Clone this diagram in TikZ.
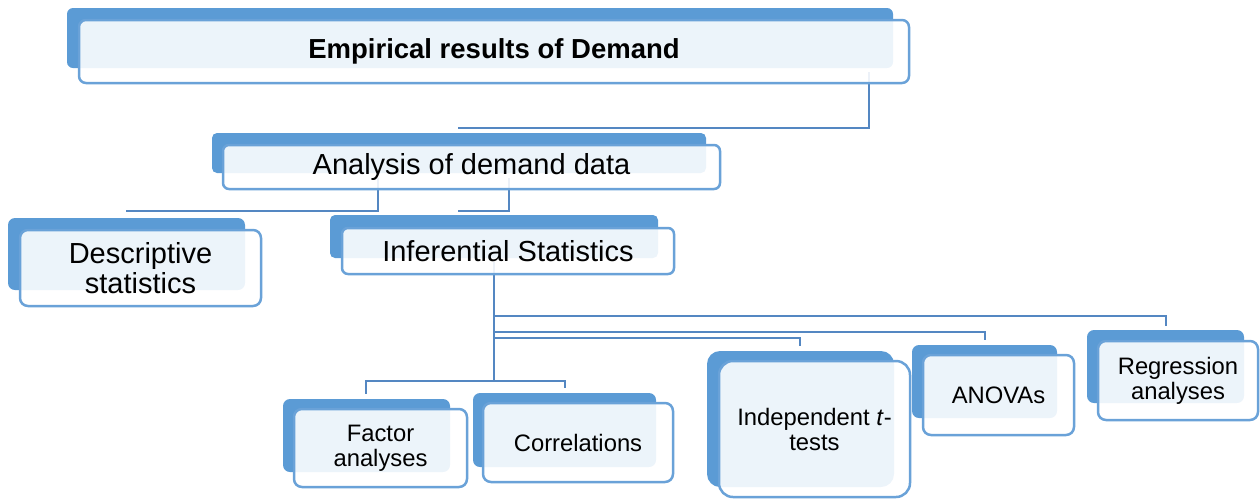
\documentclass[tikz,border=0pt]{standalone}
\usepackage{fontspec}
\setmainfont{Liberation Sans}
\definecolor{tierblue}{HTML}{5B9BD5}
\definecolor{tierline}{HTML}{6AA2D8}
\definecolor{linkblue}{HTML}{5487C2}
\begin{document}
\begin{tikzpicture}[x=1pt,y=-1pt,
  backbox/.style={fill=tierblue},
  frontbox/.style={draw=tierline, line width=2.5pt, fill=white, fill opacity=0.89,
    text opacity=1, inner sep=0pt, outer sep=0pt, align=center, text=black},
  bigtext/.style={font=\fontsize{29}{30}\selectfont},
  smalltext/.style={font=\fontsize{23.8}{25}\selectfont},
  link/.style={draw=linkblue, line width=2.4pt}]
\useasboundingbox (0,0) rectangle (1260,499);

% junction points of the connectors
\coordinate (top-out) at (869,72);
\coordinate (ana-in)  at (458,128);
\coordinate (ana-out1) at (378,178);
\coordinate (desc-in) at (126,211);
\coordinate (ana-out2) at (509,178);
\coordinate (inf-in)  at (458,211);
\coordinate (inf-out) at (494,262);
\coordinate (reg-in)  at (1166,326);
\coordinate (anova-in) at (985,340);
\coordinate (ind-in)  at (800,346);
\coordinate (fac-in)  at (366,394);
\coordinate (cor-in)  at (565,388);

% connectors, drawn underneath the boxes
\draw[link] (top-out) |- (ana-in);
\draw[link] (ana-out1) |- (desc-in);
\draw[link] (ana-out2) |- (inf-in);
\draw[link] (inf-out) -- (494,381);
\draw[link] (inf-out |- 0,316) -| (reg-in);
\draw[link] (inf-out |- 0,332) -| (anova-in);
\draw[link] (inf-out |- 0,338) -| (ind-in);
\draw[link] (inf-out |- 0,381) -| (fac-in);
\draw[link] (inf-out |- 0,381) -| (cor-in);

% Empirical results of Demand
\fill[backbox, rounded corners=6] (67,8) rectangle (893,68);
\node[frontbox, rounded corners=7, minimum width=830, minimum height=63,
  font=\fontsize{27.5}{30}\selectfont\bfseries] (top) at (494,51.5) {Empirical results of Demand};

% Analysis of demand data
\fill[backbox, rounded corners=5] (212,133) rectangle (706,173);
\node[frontbox, bigtext, rounded corners=6, minimum width=497, minimum height=44] (ana) at (471.5,167) {Analysis of demand data};

% Descriptive statistics
\fill[backbox, rounded corners=7] (8,218) rectangle (245,290);
\node[frontbox, bigtext, rounded corners=8, minimum width=241, minimum height=76] (desc) at (140.5,268) {Descriptive\\statistics};

% Inferential Statistics
\fill[backbox, rounded corners=5] (330,215) rectangle (658,258);
\node[frontbox, bigtext, rounded corners=6, minimum width=332, minimum height=46] (inf) at (508,251) {Inferential Statistics};

% Factor analyses
\fill[backbox, rounded corners=7] (283,399) rectangle (450,472);
\node[frontbox, smalltext, rounded corners=8, minimum width=173, minimum height=78] (fac) at (380.5,448) {Factor\\analyses};

% Correlations
\fill[backbox, rounded corners=7] (473,393) rectangle (656,467);
\node[frontbox, smalltext, rounded corners=8, minimum width=190, minimum height=79] (cor) at (578,442.5) {Correlations};

% Independent t-tests
\fill[backbox, rounded corners=13] (707,351) rectangle (894,487);
\node[frontbox, smalltext, rounded corners=14, minimum width=191, minimum height=136] (ind) at (814.5,429) {Independent \textit{t}-\\tests};

% ANOVAs
\fill[backbox, rounded corners=7] (912,345) rectangle (1057,418);
\node[frontbox, smalltext, rounded corners=8, minimum width=151, minimum height=80] (anova) at (998.5,395) {ANOVAs};

% Regression analyses
\fill[backbox, rounded corners=7] (1087,330) rectangle (1244,403);
\node[frontbox, smalltext, rounded corners=8, minimum width=160, minimum height=79] (reg) at (1178,380.5) {Regression\\analyses};
\end{tikzpicture}
\end{document}
